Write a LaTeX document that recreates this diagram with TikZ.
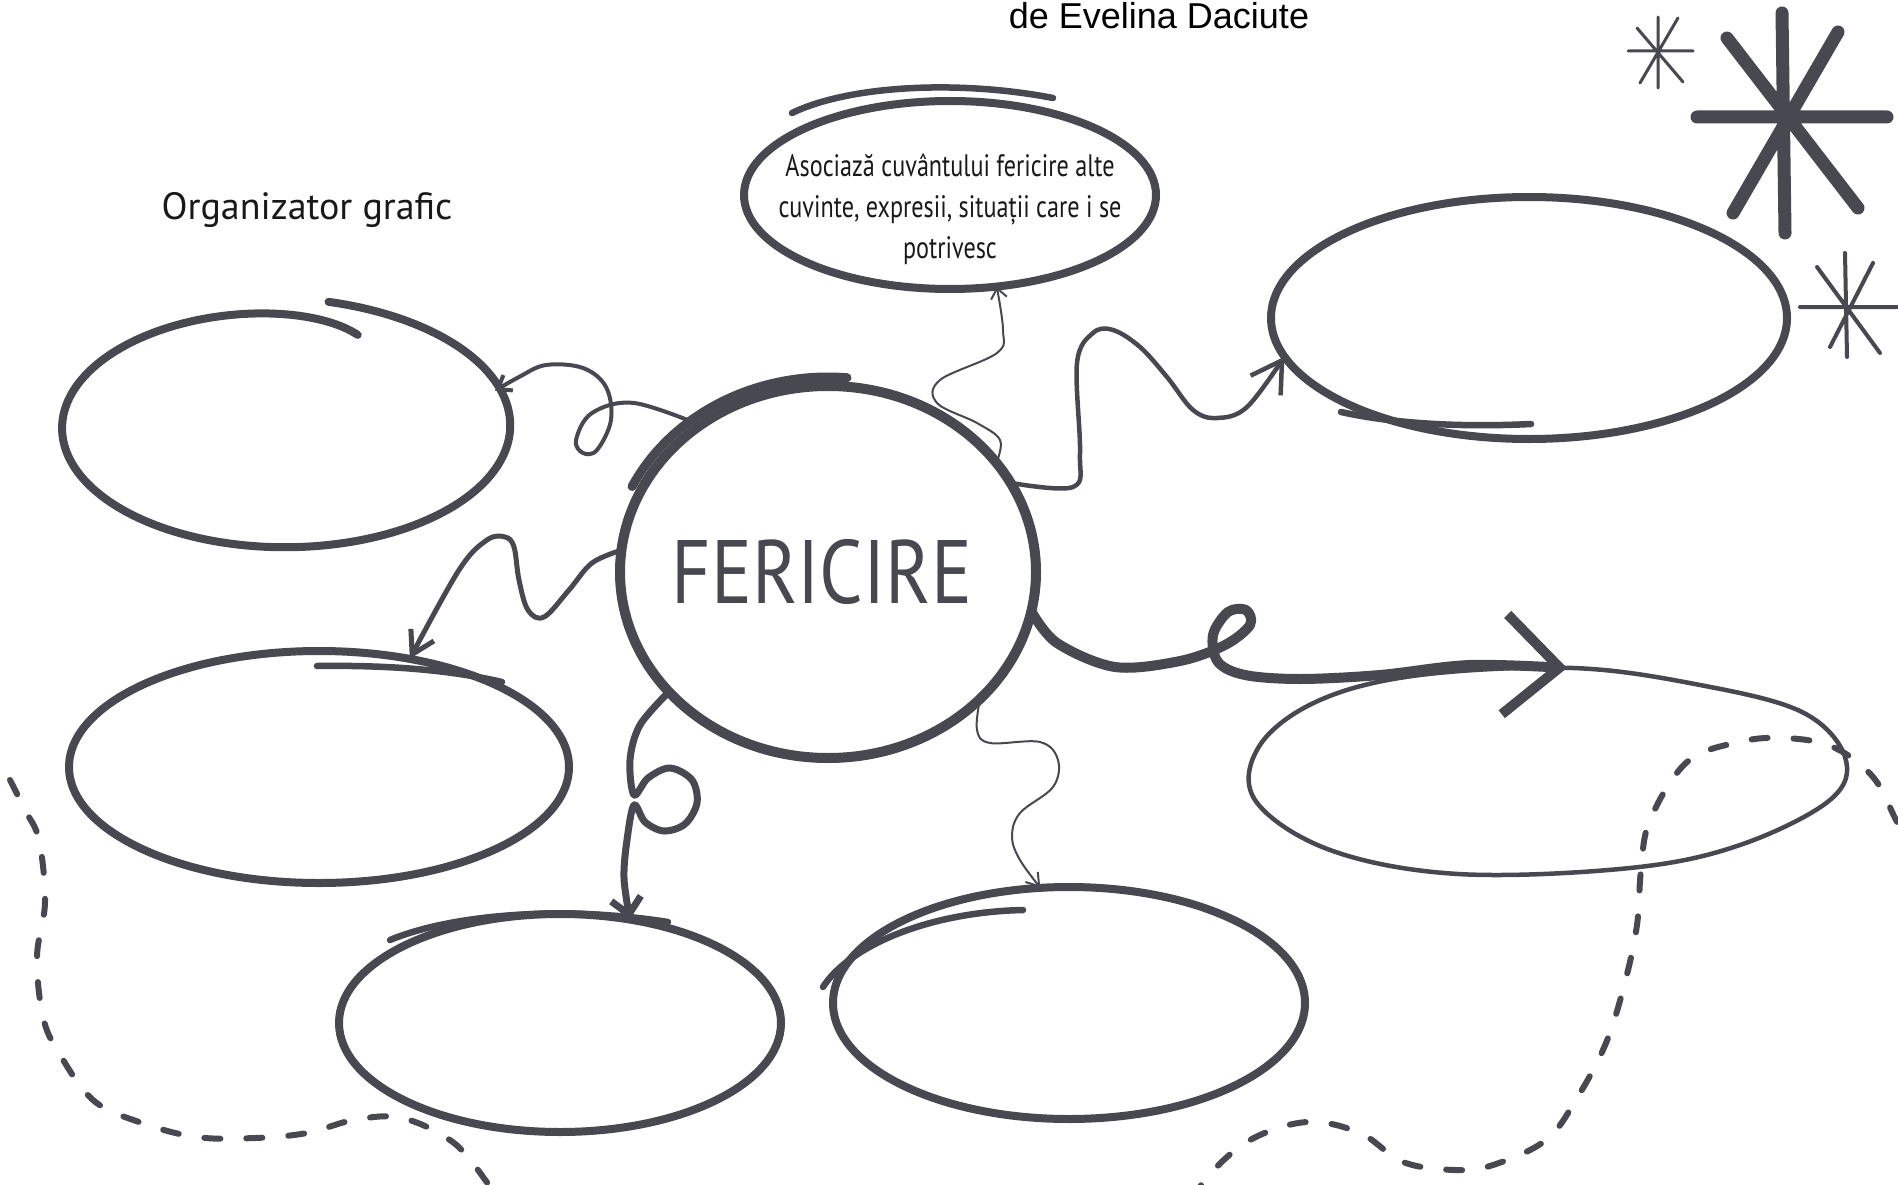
\documentclass[tikz,border=0pt]{standalone}
\usepackage{fontspec}
\setmainfont{PT Sans}
\newfontfamily\handfont[FakeStretch=0.78]{PT Sans}
\newfontfamily\orgfont{PT Sans}
\newfontfamily\bigfont[FakeStretch=0.85]{PT Sans}
\newfontfamily\titlefont{Liberation Sans}
\usetikzlibrary{arrows.meta, shapes.geometric}
\definecolor{ink}{RGB}{72,72,80}
\begin{document}
\begin{tikzpicture}[x=1pt, y=-1pt,
  box/.style={draw=ink, line width=8pt, line cap=round, line join=round},
  extra/.style={draw=ink, line width=6.5pt, line cap=round},
  anchorell/.style={ellipse, draw=none, inner sep=0pt},
  conn/.style={draw=ink, line cap=round, line join=round},
  dashline/.style={draw=ink, line width=6pt, line cap=round, dash pattern=on 16pt off 26pt},
  starline/.style={draw=ink, line cap=round},
]
\useasboundingbox (0,0) rectangle (1898,1185);
\fill[white] (0,0) rectangle (1898,1185);

% invisible anchor ellipses
\node[anchorell, minimum width=416pt, minimum height=372pt] (F) at (828,572) {};
\node[anchorell, minimum width=412pt, minimum height=188pt] (Q) at (950,195) {};
\node[anchorell, minimum width=516pt, minimum height=242pt] (TR) at (1529,318) {};
\node[anchorell, minimum width=444pt, minimum height=238pt] (TL) at (284,428) {};
\node[anchorell, minimum width=500pt, minimum height=232pt] (ML) at (319,767) {};
\node[anchorell, minimum width=442pt, minimum height=218pt] (BL) at (560,1023) {};
\node[anchorell, minimum width=472pt, minimum height=232pt] (BM) at (1069,1003) {};
\node[anchorell, minimum width=596pt, minimum height=206pt] (BR) at (1547,771) {};

% title
\node[font=\titlefont\fontsize{36}{40}\selectfont, anchor=base] (title) at (1159,29) {de Evelina Daciute};
\node[font=\orgfont\fontsize{38}{44}\selectfont, text=black!90] (org) at (307,210) {Organizator grafic};

% dashed wavy line
\draw[dashline] plot[smooth, tension=0.6] coordinates {(10,780) (25,810) (39,840) (45,902) (37,957) (43,1017) (59,1053) (93,1100) (139,1122) (196,1137) (255,1138) (307,1133) (354,1120) (402,1118) (454,1143) (489,1185) (500,1200)};
\draw[dashline] plot[smooth, tension=0.6] coordinates {(1195,1200) (1207,1177) (1250,1140) (1307,1122) (1360,1133) (1403,1162) (1455,1170) (1493,1165) (1546,1140) (1577,1098) (1606,1043) (1625,982) (1637,925) (1641,870) (1650,820) (1687,762) (1739,742) (1785,738) (1833,747) (1873,777) (1896,820) (1910,845)};

% central circle
\draw[box, line width=10pt] (F.center) ellipse [x radius=208, y radius=186];
\draw[box, line width=9pt] plot[domain=-154:-85, samples=40, smooth] ({828+218*cos(\x)},{572+195*sin(\x)});
\node[font=\bigfont\fontsize{90}{92}\selectfont, text=ink] (ft) at (822,572) {FERICIRE};

% top question ellipse
\draw[box] (Q.center) ellipse [x radius=206, y radius=94];
\draw[extra] (792,113) .. controls (850,85) and (960,80) .. (1053,98);
\node[align=center, font=\handfont\fontsize{31}{41}\selectfont, text=black!90] (qt) at (950,209) {Asociază cuvântului fericire alte\\cuvinte, expresii, situații care i se\\potrivesc};

% top right ellipse
\draw[box] (TR.center) ellipse [x radius=258, y radius=121];
\draw[extra] (1341,412) .. controls (1400,425) and (1470,427) .. (1531,424);

% top left ellipse (spiral)
\draw[box] plot[domain=0:1, samples=150, smooth, variable=\p] ({284+222*(1-0.15*exp(-20*\p)+0.08*\p^6)*cos(-67-373*\p)}, {428+119*(1-0.15*exp(-20*\p)+0.08*\p^6)*sin(-67-373*\p)});

% middle left ellipse
\draw[box] (ML.center) ellipse [x radius=250, y radius=116];
\draw[extra] (317,666) .. controls (390,665) and (450,670) .. (502,682);

% bottom left ellipse
\draw[box] (BL.center) ellipse [x radius=221, y radius=109];
\draw[extra] (390,940) .. controls (450,915) and (560,905) .. (668,922);

% bottom middle ellipse
\draw[box] (BM.center) ellipse [x radius=236, y radius=116];
\draw[extra] (823,987) .. controls (850,945) and (930,912) .. (1023,910);

% bottom right egg
\draw[box, line width=4.5pt] plot[smooth cycle, tension=0.6] coordinates {(1573,668) (1700,685) (1802,712) (1845,757) (1830,800) (1740,845) (1630,868) (1458,874) (1330,850) (1255,800) (1260,745) (1320,700) (1420,675)};

% connectors
\draw[conn, line width=2pt, -{Straight Barb[length=10pt,width=16pt]}] plot[smooth, tension=0.6] coordinates {(F.33) (1000,440) (977,423) (937,403) (940,380) (997,353) (1003,330) (Q.-63)};
\draw[conn, line width=4.5pt, -{Straight Barb[length=30pt,width=36pt]}] plot[smooth, tension=0.6] coordinates {(F.26) (1073,487) (1080,453) (1077,363) (1093,333) (1113,330) (1140,347) (1167,377) (1193,410) (1217,418) (1247,407) (TR.189)};
\draw[conn, line width=4pt, -{Straight Barb[length=12pt,width=18pt]}] plot[smooth, tension=0.6] coordinates {(F.131) (634,403) (592,413) (576,440) (583,453) (597,450) (611,420) (606,387) (583,368) (546,365) (519,377) (TL.10)};
\draw[conn, line width=5pt, -{Straight Barb[length=22pt,width=26pt]}] plot[smooth, tension=0.6] coordinates {(F.174) (592,563) (569,590) (544,617) (528,610) (519,580) (514,547) (505,537) (487,540) (459,570) (ML.50)};
\draw[conn, line width=7pt, -{Straight Barb[length=16pt,width=30pt]}] plot[smooth, tension=0.55] coordinates {(F.-143) (640,725) (630,760) (634,795) (648,778) (670,768) (692,780) (697,803) (685,824) (664,831) (645,822) (634,805) (627,840) (624,878) (BL.56)};
\draw[conn, line width=2pt, -{Straight Barb[length=12pt,width=16pt]}] plot[smooth, tension=0.6] coordinates {(F.-40) (977,730) (990,743) (1040,742) (1058,760) (1053,787) (1020,813) (1012,837) (1020,860) (BM.104)};
\draw[conn, line width=10pt, -{Straight Barb[length=55pt,width=100pt]}] plot[smooth, tension=0.55] coordinates {(F.-11) (1057,643) (1115,667) (1180,661) (1225,645) (1250,625) (1246,610) (1228,612) (1213,635) (1218,662) (1245,675) (1300,679) (1380,675) (1470,665) (BR.79)};

% stars
\draw[starline, line width=3pt] (1628,51) -- (1693,51) (1658,17) -- (1658,88) (1637,28) -- (1683,82) (1678,18) -- (1640,83);
\draw[starline, line width=13pt] (1697,117) -- (1887,117) (1782,13) -- (1785,233) (1727,38) -- (1858,208) (1838,32) -- (1733,213);
\draw[starline, line width=4pt] (1800,307) -- (1897,307) (1845,253) -- (1847,357) (1817,267) -- (1880,353) (1873,263) -- (1830,347);
\end{tikzpicture}
\end{document}
